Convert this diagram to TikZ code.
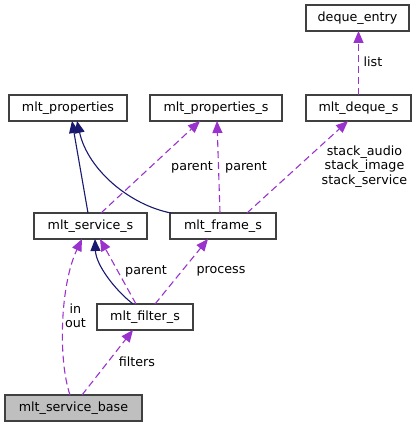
\documentclass[tikz,border=0pt]{standalone}
\usepackage{fontspec}
\setmainfont{DejaVu Sans}
\usetikzlibrary{arrows.meta}
\definecolor{navy}{HTML}{191970}
\definecolor{purp}{HTML}{9A32CD}
\definecolor{boxline}{HTML}{404040}
\definecolor{basefill}{HTML}{BFBFBF}
\begin{document}
\begin{tikzpicture}[x=1pt,y=-1pt,
  cls/.style={draw=boxline,line width=1.2pt,fill=white,minimum height=26pt,inner sep=0pt,outer sep=0pt,font=\fontsize{12.7}{14}\selectfont},
  lbl/.style={inner sep=0pt,align=center,font=\fontsize{12.7}{14.5}\selectfont},
  inh/.style={draw=navy,line width=1.1pt,-{Triangle[length=12pt,width=10pt]}},
  use/.style={draw=purp,line width=1.1pt,dash pattern=on 7pt off 4pt,-{Triangle[length=12pt,width=10pt]}}]
\useasboundingbox (0,0) rectangle (417,427);
\node[cls,minimum width=103pt] (de) at (357.5,18) {deque\_entry};
\node[cls,minimum width=105pt] (ds) at (358.5,108) {mlt\_deque\_s};
\node[cls,minimum width=132pt] (ps) at (216,108) {mlt\_properties\_s};
\node[cls,minimum width=118pt] (p) at (68,108) {mlt\_properties};
\node[cls,minimum width=113pt] (svc) at (90.5,226) {mlt\_service\_s};
\node[cls,minimum width=106pt] (fr) at (223,226) {mlt\_frame\_s};
\node[cls,minimum width=96pt] (fl) at (145,317) {mlt\_filter\_s};
\node[cls,minimum width=137pt,fill=basefill] (base) at (73.5,408) {mlt\_service\_base};
% inheritance
\draw[inh] ([xshift=-2.5pt]svc.north) -- ([xshift=4pt]p.south);
\draw[inh] ([xshift=1pt]fr.north west) .. controls (130,205) and (88,170) .. ([xshift=9pt]p.south);
\draw[inh] ([xshift=-12pt]fl.north) .. controls (115,290) and (96,265) .. ([xshift=4.5pt]svc.south);
% usage
\draw[use] ([xshift=10.5pt]svc.north) -- ([xshift=-16pt]ps.south);
\draw[use] ([xshift=-3pt]fr.north) -- ([xshift=1pt]ps.south);
\draw[use] ([xshift=24pt]fr.north) -- ([xshift=-10.5pt]ds.south);
\draw[use] (ds.north) -- ([xshift=1pt]de.south);
\draw[use] ([xshift=-9pt]fl.north) -- ([xshift=9.5pt]svc.south);
\draw[use] ([xshift=10pt]fl.north) -- ([xshift=-15pt]fr.south);
\draw[use] ([xshift=-3.5pt]base.north) .. controls (58,360) and (60,285) .. ([xshift=-8.5pt]svc.south);
\draw[use] ([xshift=8.5pt]base.north) -- ([xshift=-12pt]fl.south);
% labels
\node[lbl] (l1) at (192,167) {parent};
\node[lbl] (l2) at (246,167) {parent};
\node[lbl] (l3) at (364.5,166.5) {stack\_audio\\stack\_image\\stack\_service};
\node[lbl] (l4) at (373,62) {list};
\node[lbl] (l5) at (146,271) {parent};
\node[lbl] (l6) at (221,271) {process};
\node[lbl] (l7) at (75.5,316) {in\\out};
\node[lbl] (l8) at (137,362) {filters};
\end{tikzpicture}
\end{document}
